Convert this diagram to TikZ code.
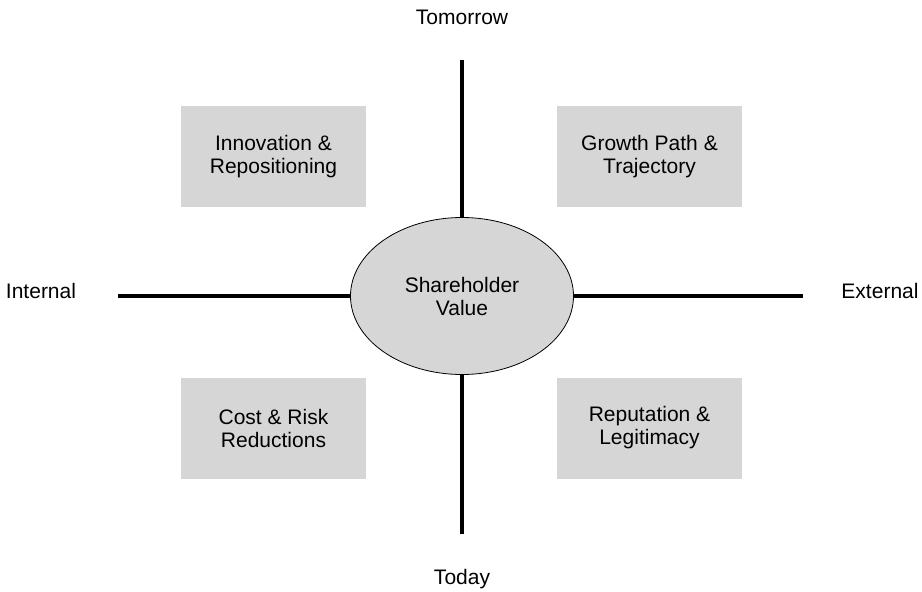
\documentclass[tikz,border=0pt]{standalone}
\usepackage{fontspec}
\setmainfont{Liberation Sans}
\usetikzlibrary{shapes.geometric}
\definecolor{panelgray}{HTML}{D6D6D6}
\newcommand{\quadfont}{\fontsize{21}{23}\selectfont}
\tikzset{panel/.style = {shape=rectangle,fill=panelgray,minimum width=185pt,minimum height=101pt,align=center,font=\quadfont}}
\tikzset{hub/.style = {shape=ellipse,draw,fill=panelgray,line width=0.8pt,minimum width=223pt,minimum height=157pt,inner sep=0pt,align=center,font=\quadfont}}
\tikzset{tag/.style = {font=\quadfont}}
\tikzset{axis/.style = {line width=4pt}}

\begin{document}
\begin{tikzpicture}[x=1pt,y=-1pt]
        \useasboundingbox (0,0) rectangle (922,592);
        \node[hub] (sv) at (462,296) {Shareholder\\Value};
        \node[panel] (inno) at (273.5,156.5) {Innovation \&\\Repositioning};
        \node[panel] (growth) at (649.5,156.5) {Growth Path \&\\Trajectory};
        \node[panel] (cost) at (273.5,428) {Cost \& Risk\\Reductions};
        \node[panel] (rep) at (649.5,428) {Reputation \&\\Legitimacy};
        \node[tag] (tom) at (462,17) {Tomorrow};
        \node[tag] (today) at (462,579) {Today};
        \node[tag] (int) at (41,291) {Internal};
        \node[tag] (ext) at (880,291) {External};
        \coordinate (up) at (462,60);
        \draw[axis] (sv) -- (up);
        \coordinate (down) at (462,534);
        \draw[axis] (sv) -- (down);
        \coordinate (left) at (118,296);
        \draw[axis] (sv) -- (left);
        \coordinate (right) at (803,296);
        \draw[axis] (sv) -- (right);
    \end{tikzpicture}
\end{document}
